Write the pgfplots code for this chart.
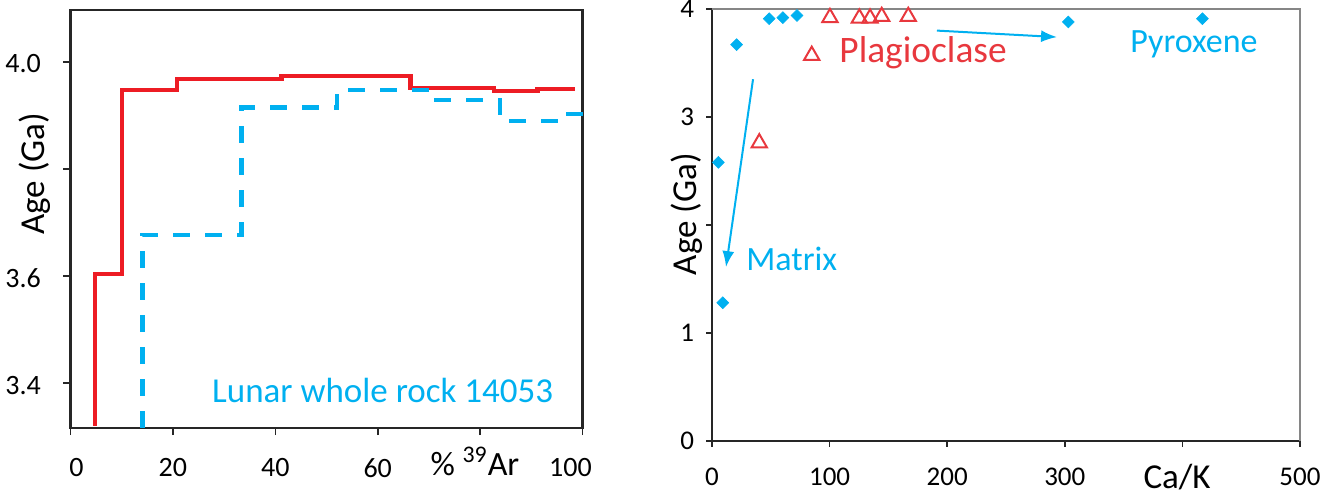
\documentclass[border=0pt]{standalone}
\usepackage{pgfplots}
\pgfplotsset{compat=1.18}
\usepackage{pgfplotstable}
\usepackage{fontspec}
\setmainfont{Carlito}
\usetikzlibrary{arrows.meta}
\definecolor{cred}{RGB}{237,28,36}
\definecolor{cblue}{RGB}{0,176,240}
\definecolor{tred}{RGB}{232,56,62}
\definecolor{axgray}{RGB}{134,134,134}
\definecolor{axdark}{RGB}{38,38,38}

\pgfplotstableread{
x y
4.8 3.32
4.8 3.604
10.1 3.604
10.1 3.948
20.8 3.948
20.8 3.968
41.2 3.968
41.2 3.974
66.4 3.974
66.4 3.951
82.7 3.951
82.7 3.946
91.2 3.946
91.2 3.949
98.5 3.949
}\redstep

\pgfplotstableread{
x y
14.1 3.316
14.1 3.677
33.4 3.677
33.4 3.915
52.1 3.915
52.1 3.948
70.7 3.948
70.7 3.929
83.9 3.929
83.9 3.890
96.7 3.890
96.7 3.903
100 3.903
}\bluestep

\pgfplotstableread{
x y
5.4 2.58
9.2 1.28
20.9 3.67
48.6 3.91
60.2 3.92
72.3 3.94
303 3.88
417 3.91
}\pyroxene

\pgfplotstableread{
x y
40.2 2.76
84.8 3.57
100.3 3.92
125.3 3.915
134.4 3.915
144.3 3.93
166.9 3.93
}\plagio

\begin{document}
\begin{tikzpicture}
\path[use as bounding box] (0,0) rectangle (669.5pt,249pt);
% ---------------- left panel
\begin{axis}[
  at={(35.25pt,35pt)}, anchor=south west,
  scale only axis, width=256pt, height=209pt,
  xmin=0, xmax=100, ymin=3.316, ymax=4.097,
  xtick={0,20,40,60,80,100}, xticklabels={\hspace*{6pt}0,20,40,60,,100\hspace*{12pt}},
  ytick={3.4,3.6,3.8,4.0}, yticklabels={3.4,3.6,,4.0},
  tick pos=left, tick align=outside, major tick length=3.5pt,
  every tick/.style={axdark, line width=0.8pt},
  axis line style={axdark, line width=1.2pt},
  tick label style={font=\fontsize{14}{16}\selectfont, text=black},
  xticklabel style={anchor=north, yshift=-8.3pt},
  yticklabel style={anchor=east, xshift=-7.8pt, yshift=-1pt},
  xlabel={\% \textsuperscript{39}Ar},
  xlabel style={font=\fontsize{17}{20}\selectfont, at={(rel axis cs:0.79,0)}, anchor=base, yshift=-23.5pt},
  ylabel={Age (Ga)},
  ylabel style={font=\fontsize{17.5}{20}\selectfont, at={([xshift=-17.75pt]rel axis cs:0,0.608)}, anchor=center},
  clip=false,
]
\addplot[cred, line width=2.2pt, line join=miter] table[x=x,y=y] {\redstep};
\addplot[cblue, line width=2.2pt, dash pattern=on 8.5pt off 7.5pt] table[x=x,y=y] {\bluestep};
\node[anchor=base west, text=cblue, font=\fontsize{17.5}{20}\selectfont, inner sep=0pt] at (axis cs:27.6,3.364) {Lunar whole rock 14053};
\end{axis}
% ---------------- right panel
\begin{axis}[
  at={(356pt,28.5pt)}, anchor=south west,
  scale only axis, width=294pt, height=216pt,
  xmin=0, xmax=500, ymin=0, ymax=4,
  xtick={0,100,200,300,400,500}, xticklabels={0,100,200,300,,500},
  ytick={0,1,2,3,4}, yticklabels={0,1,,3,4},
  tick pos=left, tick align=outside, major tick length=3pt,
  every tick/.style={axdark, line width=0.8pt},
  axis x line*=bottom, axis y line*=left,
  axis line style={axdark, line width=1pt, -},
  tick label style={font=\fontsize{13.5}{16}\selectfont, text=black},
  xticklabel style={anchor=north, yshift=-7.2pt},
  yticklabel style={anchor=east, xshift=-2.5pt},
  xlabel={Ca/K},
  xlabel style={font=\fontsize{17.5}{20}\selectfont, at={(rel axis cs:0.791,0)}, anchor=base, yshift=-23.5pt},
  ylabel={Age (Ga)},
  ylabel style={font=\fontsize{17.5}{20}\selectfont, at={([xshift=-12.5pt]rel axis cs:0,0.525)}, anchor=center},
  clip=false,
]
\draw[axgray, line width=1pt] (rel axis cs:0,1) -- (rel axis cs:1,1) -- (rel axis cs:1,0);
\addplot[only marks, mark=square*, mark size=2.1pt, mark options={rotate=45, fill=cblue, draw=cblue, line width=0.3pt}] table[x=x,y=y] {\pyroxene};
\addplot[only marks, mark=triangle, mark size=4.4pt, mark options={draw=tred, line width=1pt}] table[x=x,y=y] {\plagio};
\draw[cblue, line width=1pt, -{Latex[length=8pt,width=6pt]}] (axis cs:34.9,3.35) -- (axis cs:11.9,1.61);
\draw[cblue, line width=1pt, -{Latex[length=8pt,width=6pt]}] (axis cs:191.3,3.80) -- (axis cs:293.4,3.74);
\node[anchor=base west, text=tred, font=\fontsize{18.7}{22}\selectfont, inner sep=0pt] at (axis cs:108,3.509) {Plagioclase};
\node[anchor=base west, text=cblue, font=\fontsize{17}{20}\selectfont, inner sep=0pt] at (axis cs:355.4,3.595) {Pyroxene};
\node[anchor=base west, text=cblue, font=\fontsize{17}{20}\selectfont, inner sep=0pt] at (axis cs:28.9,1.583) {Matrix};
\end{axis}
\end{tikzpicture}
\end{document}
